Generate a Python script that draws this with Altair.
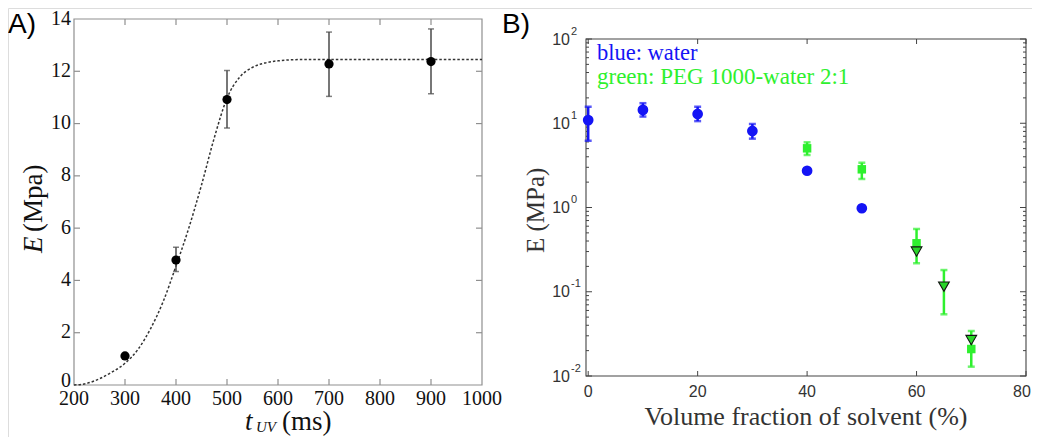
import altair as alt
import pandas as pd

# ---------------- Panel A data ----------------
A_T = [300, 400, 500, 700, 900]
A_E = [1.11, 4.78, 10.92, 12.28, 12.37]
A_LO = [1.11, 4.34, 9.83, 11.04, 11.14]
A_HI = [1.11, 5.27, 12.03, 13.50, 13.62]

A_CURVE_T = [200, 225, 250, 275, 300, 325, 350, 375, 400, 425, 450, 475, 500,
             525, 550, 575, 600, 650, 700, 800, 900, 1000]
A_CURVE_E = [0.0, 0.06, 0.24, 0.50, 0.83, 1.35, 2.15, 3.20, 4.55, 6.00, 7.65, 9.45, 10.97,
             11.78, 12.15, 12.32, 12.40, 12.45, 12.45, 12.45, 12.45, 12.45]

A_XTICKS = [200, 300, 400, 500, 600, 700, 800, 900, 1000]
A_XLABELS = ["200", "300", "400", "500", "600", "700", "800", "900", "1000"]
A_YTICKS = [0, 2, 4, 6, 8, 10, 12, 14]
A_YLABELS = ["0", "2", "4", "6", "8", "10", "12", "14"]

# ---------------- Panel B data ----------------
B_W_X = [0, 10, 20, 30, 40, 50]
B_W_E = [10.9, 14.4, 12.9, 8.1, 2.73, 0.98]
B_W_LO = [6.2, 12.0, 10.6, 6.56, 2.55, 0.93]
B_W_HI = [15.7, 17.3, 15.7, 9.8, 2.9, 1.04]

B_SQ_X = [40, 50, 60, 70]
B_SQ_E = [5.04, 2.84, 0.376, 0.0209]
B_SQ_LO = [4.2, 2.18, 0.218, 0.0129]
B_SQ_HI = [5.94, 3.4, 0.556, 0.0342]

B_TRI_X = [60, 65, 70]
B_TRI_E = [0.30, 0.115, 0.0267]
B_TRI_LO = [0.30, 0.054, 0.0267]
B_TRI_HI = [0.30, 0.181, 0.0267]

B_XTICKS = [0, 20, 40, 60, 80]
B_XLABELS = ["0", "20", "40", "60", "80"]
B_YMAJOR = [0.01, 0.1, 1, 10, 100]
B_YEXP = ["-2", "-1", "0", "1", "2"]
B_MANT = [2, 3, 4, 5, 6, 7, 8, 9]
B_DECADES = [0.01, 0.1, 1, 10]
B_YMINOR = [m * d for d in B_DECADES for m in B_MANT]

BLUE = "#1414f5"
GREEN = "#2ef02e"

# ---------------- scales ----------------
XA = alt.Scale(domain=[200, 1000], range=[66, 474], nice=False, zero=False)
YA = alt.Scale(domain=[0, 14], range=[377, 11], nice=False, zero=False)
XB = alt.Scale(domain=[-0.4, 80], range=[578, 1018], nice=False, zero=False)
YB = alt.Scale(type="log", domain=[0.01, 100], range=[368, 31], nice=False)


def xa(f):
    return alt.X(f, type="quantitative", scale=XA, axis=None)


def ya(f):
    return alt.Y(f, type="quantitative", scale=YA, axis=None)


def xb(f):
    return alt.X(f, type="quantitative", scale=XB, axis=None)


def yb(f):
    return alt.Y(f, type="quantitative", scale=YB, axis=None)


def label(s, x, y, size, font, color="#111", angle=0, italic=False, align="left"):
    kw = dict(font=font, fontSize=size, color=color, align=align, baseline="alphabetic")
    if angle:
        kw["angle"] = angle
    if italic:
        kw["fontStyle"] = "italic"
    return alt.Chart(pd.DataFrame({"s": [s]})).mark_text(**kw).encode(
        x=alt.value(x), y=alt.value(y), text="s:N")


# ================= Panel A =================
fa = pd.DataFrame({"x0": [A_XTICKS[0]], "x1": [A_XTICKS[-1]],
                   "y0": [A_YTICKS[0]], "y1": [A_YTICKS[-1]]})
frameA = alt.Chart(fa).mark_rect(fillOpacity=0, stroke="#8f8f8f", strokeWidth=1.2).encode(
    x=xa("x0"), x2="x1", y=ya("y0"), y2="y1")

dxA = pd.DataFrame({"t": A_XTICKS, "lab": A_XLABELS})
dyA = pd.DataFrame({"v": A_YTICKS, "lab": A_YLABELS})
dxAin = dxA.iloc[1:-1]
dyAin = dyA.iloc[1:-1]
TC = "#8f8f8f"
tickA = [
    alt.Chart(dxAin).mark_rule(color=TC, strokeWidth=1.2).encode(x=xa("t"), y=alt.value(377), y2=alt.value(371)),
    alt.Chart(dxAin).mark_rule(color=TC, strokeWidth=1.2).encode(x=xa("t"), y=alt.value(11), y2=alt.value(17)),
    alt.Chart(dyAin).mark_rule(color=TC, strokeWidth=1.2).encode(y=ya("v"), x=alt.value(66), x2=alt.value(72)),
    alt.Chart(dyAin).mark_rule(color=TC, strokeWidth=1.2).encode(y=ya("v"), x=alt.value(474), x2=alt.value(468)),
]
xlabA = alt.Chart(dxA).mark_text(font="Liberation Serif", fontSize=20, align="center",
                                 baseline="alphabetic", color="#111").encode(
    x=xa("t"), y=alt.value(397), text="lab:N")
ylabA = alt.Chart(dyA.iloc[1:]).mark_text(font="Liberation Serif", fontSize=20, align="right",
                                          baseline="alphabetic", color="#111", dy=5.5).encode(
    y=ya("v"), x=alt.value(63), text="lab:N")
ylabA0 = alt.Chart(dyA.iloc[:1]).mark_text(font="Liberation Serif", fontSize=20, align="right",
                                           baseline="alphabetic", color="#111", dy=2).encode(
    y=ya("v"), x=alt.value(63), text="lab:N")

curve = alt.Chart(pd.DataFrame({"t": A_CURVE_T, "e": A_CURVE_E})).mark_line(
    color="#333", strokeWidth=1.5, strokeDash=[2.5, 2], interpolate="monotone").encode(
    x=xa("t"), y=ya("e"))

dA = pd.DataFrame({"t": A_T, "e": A_E, "lo": A_LO, "hi": A_HI})
EC = "#4a4a4a"
errA = alt.Chart(dA).transform_filter("datum.hi > datum.lo").mark_rule(
    color=EC, strokeWidth=1.5).encode(x=xa("t"), y=ya("lo"), y2="hi")
capA1 = alt.Chart(dA).transform_filter("datum.hi > datum.lo").mark_tick(
    orient="horizontal", size=6, thickness=1.5, color=EC).encode(x=xa("t"), y=ya("lo"))
capA2 = alt.Chart(dA).transform_filter("datum.hi > datum.lo").mark_tick(
    orient="horizontal", size=6, thickness=1.5, color=EC).encode(x=xa("t"), y=ya("hi"))
ptsA = alt.Chart(dA).mark_circle(size=85, color="black", opacity=1).encode(x=xa("t"), y=ya("e"))

textA = [
    label("A)", 0, 25, 28, "Liberation Sans", color="#000"),
    label("E", 34, 245, 27, "Liberation Serif", angle=270, italic=True),
    label("(Mpa)", 34, 224, 27, "Liberation Serif", angle=270),
    label("t", 237, 422, 27, "Liberation Serif", italic=True),
    label("UV", 248, 424, 15, "Liberation Serif", italic=True),
    label("(ms)", 274, 422, 27, "Liberation Serif"),
]

panelA = alt.layer(frameA, *tickA, xlabA, ylabA, ylabA0, curve, errA, capA1, capA2, ptsA, *textA)

# ================= Panel B =================
fb = pd.DataFrame({"x0": [-0.4], "x1": [B_XTICKS[-1]], "y0": [B_YMAJOR[0]], "y1": [B_YMAJOR[-1]]})
frameB = alt.Chart(fb).mark_rect(fillOpacity=0, stroke="#444", strokeWidth=1.1).encode(
    x=xb("x0"), x2="x1", y=yb("y0"), y2="y1")

dxB = pd.DataFrame({"t": B_XTICKS, "lab": B_XLABELS})
dyB = pd.DataFrame({"v": B_YMAJOR, "e": B_YEXP, "b": ["10"] * len(B_YMAJOR)})
dyBm = pd.DataFrame({"v": B_YMINOR})
TB = "#444"
tickB = [
    alt.Chart(dxB).mark_rule(color=TB, strokeWidth=1).encode(x=xb("t"), y=alt.value(368), y2=alt.value(363)),
    alt.Chart(dxB).mark_rule(color=TB, strokeWidth=1).encode(x=xb("t"), y=alt.value(31), y2=alt.value(36)),
    alt.Chart(dyB).mark_rule(color=TB, strokeWidth=1).encode(y=yb("v"), x=alt.value(578), x2=alt.value(584)),
    alt.Chart(dyB).mark_rule(color=TB, strokeWidth=1).encode(y=yb("v"), x=alt.value(1018), x2=alt.value(1012)),
    alt.Chart(dyBm).mark_rule(color=TB, strokeWidth=1).encode(y=yb("v"), x=alt.value(578), x2=alt.value(581)),
    alt.Chart(dyBm).mark_rule(color=TB, strokeWidth=1).encode(y=yb("v"), x=alt.value(1018), x2=alt.value(1015)),
]
xlabB = alt.Chart(dxB.iloc[:-1]).mark_text(font="Liberation Sans", fontSize=16, align="center",
                                           baseline="alphabetic", color="#333").encode(
    x=xb("t"), y=alt.value(389), text="lab:N")
xlabB_last = alt.Chart(dxB.iloc[-1:]).mark_text(font="Liberation Sans", fontSize=16, align="center",
                                                baseline="alphabetic", color="#333", dx=-4).encode(
    x=xb("t"), y=alt.value(389), text="lab:N")
ylabB = alt.Chart(dyB).mark_text(font="Liberation Sans", fontSize=16, align="right",
                                 baseline="alphabetic", color="#333", dy=5.5).encode(
    y=yb("v"), x=alt.value(562), text="b:N")
yexpB = alt.Chart(dyB).mark_text(font="Liberation Sans", fontSize=11, align="left",
                                 baseline="alphabetic", color="#333", dy=-4.5).encode(
    y=yb("v"), x=alt.value(563), text="e:N")


def errbars(df, color, width, cap):
    base = alt.Chart(df).transform_filter("datum.hi > datum.lo")
    return [
        base.mark_rule(color=color, strokeWidth=width).encode(x=xb("x"), y=yb("lo"), y2="hi"),
        base.mark_tick(orient="horizontal", size=cap, thickness=width, color=color).encode(x=xb("x"), y=yb("lo")),
        base.mark_tick(orient="horizontal", size=cap, thickness=width, color=color).encode(x=xb("x"), y=yb("hi")),
    ]


dW = pd.DataFrame({"x": B_W_X, "e": B_W_E, "lo": B_W_LO, "hi": B_W_HI})
dS = pd.DataFrame({"x": B_SQ_X, "e": B_SQ_E, "lo": B_SQ_LO, "hi": B_SQ_HI})
dT = pd.DataFrame({"x": B_TRI_X, "e": B_TRI_E, "lo": B_TRI_LO, "hi": B_TRI_HI})

errW = errbars(dW, BLUE, 2.5, 7)
errS = errbars(dS, GREEN, 2.5, 7)
errT = errbars(dT, GREEN, 2.5, 7)
ptsW = alt.Chart(dW).mark_point(shape="circle", filled=True, size=115, color=BLUE, opacity=1).encode(
    x=xb("x"), y=yb("e"))
ptsS = alt.Chart(dS).mark_point(shape="square", filled=True, size=72, color=GREEN, opacity=1).encode(
    x=xb("x"), y=yb("e"))
ptsT = alt.Chart(dT).mark_point(shape="triangle-down", filled=True, size=115, fill="#28d428",
                                stroke="#111", strokeWidth=1.1, opacity=1).encode(
    x=xb("x"), y=yb("e"))

textB = [
    label("B)", 494, 25, 28, "Liberation Sans", color="#000"),
    label("E (MPa)", 536, 245, 25, "Liberation Serif", color="#333", angle=270),
    label("Volume fraction of solvent (%)", 798, 417, 26, "Liberation Serif", color="#333", align="center"),
    label("blue: water", 589, 52, 22.5, "Liberation Serif", color=BLUE),
    label("green: PEG 1000-water 2:1", 589, 76, 23, "Liberation Serif", color=GREEN),
]

panelB = alt.layer(frameB, *tickB, xlabB, xlabB_last, ylabB, yexpB, *errW, *errS, *errT,
                   ptsW, ptsS, ptsT, *textB)

chart = alt.layer(panelA, panelB).resolve_scale(x="independent", y="independent").properties(
    width=1024, height=429, padding=0,
    autosize=alt.AutoSizeParams(type="none"),
).configure_view(stroke="transparent").configure(background="white")

chart.save("out.html", embed_options={"renderer": "svg", "actions": False})
